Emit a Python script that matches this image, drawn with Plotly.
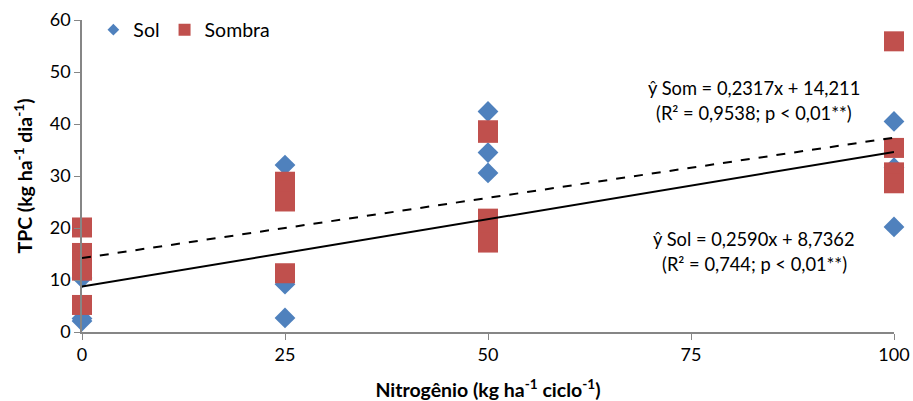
import plotly.graph_objects as go

# Data
sol_x = [0, 0, 0, 25, 25, 25, 50, 50, 50, 100, 100, 100]
sol_y = [2.1, 2.6, 10.4, 32.1, 9.2, 2.7, 42.4, 34.5, 30.6, 40.5, 31.6, 20.2]

som_x = [0, 0, 0, 0, 0, 25, 25, 25, 25, 50, 50, 50, 50, 50, 100, 100, 100, 100]
som_y = [20.1, 15.2, 13.6, 11.8, 5.2, 28.9, 27.2, 25.1, 11.3, 38.8, 38.3, 21.8, 19.6, 17.2, 55.9, 35.4, 30.7, 28.6]

sol_a, sol_b = 0.2590, 8.7362
som_a, som_b = 0.2317, 14.211
line_x = [0, 100]

x_ticks = [0, 25, 50, 75, 100]
y_ticks = [0, 10, 20, 30, 40, 50, 60]

FONT = "Lato"
BLUE = "#4F81BD"
RED = "#C0504D"

fig = go.Figure()

fig.add_trace(go.Scatter(
    x=sol_x, y=sol_y, mode="markers", name="Sol", showlegend=False,
    marker=dict(symbol="diamond", size=16, color=BLUE), cliponaxis=False))
fig.add_trace(go.Scatter(
    x=som_x, y=som_y, mode="markers", name="Sombra", showlegend=False,
    marker=dict(symbol="square", size=20, color=RED), cliponaxis=False))

fig.add_trace(go.Scatter(
    x=line_x, y=[sol_a * v + sol_b for v in line_x], mode="lines",
    line=dict(color="black", width=2), showlegend=False, hoverinfo="skip"))
fig.add_trace(go.Scatter(
    x=line_x, y=[som_a * v + som_b for v in line_x], mode="lines",
    line=dict(color="black", width=2, dash="dash"), showlegend=False, hoverinfo="skip"))

# legend entries (smaller markers, as in the reference legend)
fig.add_trace(go.Scatter(x=[None], y=[None], mode="markers", name="Sol",
                         marker=dict(symbol="diamond", size=9, color=BLUE)))
fig.add_trace(go.Scatter(x=[None], y=[None], mode="markers", name="Sombra",
                         marker=dict(symbol="square", size=12, color=RED)))

ann_font = dict(family=FONT, size=18.3, color="black")
annots = [
    ("ŷ Som = 0,2317x + 14,211", 88),
    ("(R² = 0,9538; p < 0,01**)", 113),
    ("ŷ Sol = 0,2590x + 8,7362", 239),
    ("(R² = 0,744; p < 0,01**)", 264),
]
for txt, py in annots:
    fig.add_annotation(text=txt, xref="paper", yref="paper",
                       x=(754 - 82) / (894 - 82), y=(332 - py) / (332 - 20),
                       xanchor="center", yanchor="middle", showarrow=False, font=ann_font)

fig.update_layout(
    width=913, height=401,
    margin=dict(l=82, r=19, t=20, b=69, autoexpand=False),
    paper_bgcolor="white", plot_bgcolor="white",
    font=dict(family=FONT, size=18, color="black"),
    legend=dict(orientation="h", x=0.014, y=(332 - 30) / 312, xanchor="left", yanchor="middle",
                font=dict(family=FONT, size=19.5), bgcolor="rgba(0,0,0,0)",
                itemwidth=30, tracegroupgap=0),
    xaxis=dict(range=[0, 100], tickvals=x_ticks, ticktext=[str(v) for v in x_ticks],
               showgrid=False, zeroline=False, showline=True, linecolor="#868686",
               linewidth=1.5, ticks="outside", ticklen=6, tickcolor="#868686",
               tickfont=dict(family=FONT, size=18),
               title=dict(text="<b>Nitrogênio (kg ha<sup>-1</sup> ciclo<sup>-1</sup>)</b>",
                          font=dict(family=FONT, size=19.5), standoff=20)),
    yaxis=dict(range=[0, 60], tickvals=y_ticks, ticktext=[str(v) for v in y_ticks],
               showgrid=False, zeroline=False, showline=True, linecolor="#868686",
               linewidth=1.5, ticks="outside", ticklen=6, tickcolor="#868686",
               tickfont=dict(family=FONT, size=18),
               title=dict(text="<b>TPC (kg ha<sup>-1</sup> dia<sup>-1</sup>)</b>",
                          font=dict(family=FONT, size=19.5), standoff=12)),
)

fig.write_html("out.html")
